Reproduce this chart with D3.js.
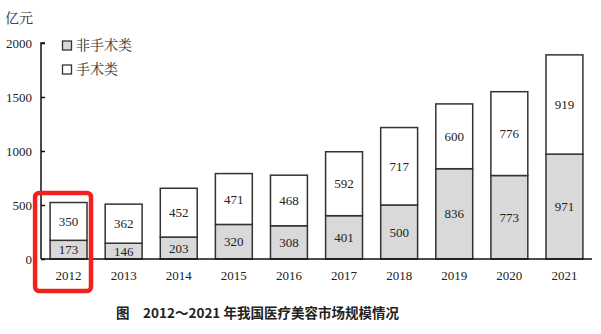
<!DOCTYPE html>
<html><head><meta charset="utf-8">
<script src="https://cdn.jsdelivr.net/npm/d3@7"></script>
<style>body{margin:0;background:#fff}svg{display:block}</style>
</head><body>
<svg id="c" width="601" height="334"></svg>
<script>
const years = ["2012","2013","2014","2015","2016","2017","2018","2019","2020","2021"];
const nonSurgical = [173,146,203,320,308,401,500,836,773,971];
const surgical = [350,362,452,471,468,592,717,600,776,919];
const yTicks = [0,500,1000,1500,2000];
const seriesNames = ["非手术类","手术类"];
const colors = ["#d9d9d9","#ffffff"];

const svg = d3.select("#c");
const serif = "'Liberation Serif','Noto Serif CJK SC','Noto Sans CJK SC',serif";
const x = d3.scaleBand().domain(years).range([41,592]).paddingInner(0.33).paddingOuter(0.165);
const y = d3.scaleLinear().domain([0,2000]).range([259,43]);

const data = years.map((yr,i)=>({yr, a:nonSurgical[i], b:surgical[i]}));
const stack = d3.stack().keys(["a","b"])(data);

stack.forEach((layer,li)=>{
  svg.append("g").selectAll("rect").data(layer).join("rect")
    .attr("x",d=>x(d.data.yr)).attr("width",x.bandwidth())
    .attr("y",d=>y(d[1])).attr("height",d=>y(d[0])-y(d[1]))
    .attr("fill",colors[li]).attr("stroke","#333").attr("stroke-width",1.5);
  svg.append("g").selectAll("text").data(layer).join("text")
    .attr("x",d=>x(d.data.yr)+x.bandwidth()/2)
    .attr("y",d=>(y(d[0])+y(d[1]))/2)
    .attr("dy","0.35em").attr("text-anchor","middle")
    .attr("font-family",serif).attr("font-size",13).attr("fill","#222")
    .text(d=>d[1]-d[0]);
});

// y axis
const ya = svg.append("g").attr("transform","translate(41,0)")
  .call(d3.axisRight(y).tickValues(yTicks).tickSize(4).tickFormat(""));
ya.select(".domain").attr("stroke","#111").attr("stroke-width",1.5).attr("d","M4,43H0V259");
ya.selectAll("line").attr("stroke","#111").attr("stroke-width",1.5);
svg.append("g").selectAll("text").data(yTicks).join("text")
  .attr("x",32).attr("y",d=>y(d)).attr("dy","0.35em").attr("text-anchor","end")
  .attr("font-family",serif).attr("font-size",13).attr("fill","#222").text(d=>d);

// x axis
const xa = svg.append("g").attr("transform","translate(0,259)")
  .call(d3.axisBottom(x).tickSize(0).tickPadding(12));
xa.select(".domain").attr("stroke","#111").attr("stroke-width",1.5).attr("d","M41,0H592");
xa.selectAll("text").attr("font-family",serif).attr("font-size",13).attr("fill","#222");

// unit
svg.append("text").attr("x",5).attr("y",23).attr("font-family",serif).attr("font-size",14).attr("fill","#333").text("亿元");

// legend
seriesNames.forEach((n,i)=>{
  const ly = 45.5 + i*24;
  svg.append("rect").attr("x",62.5).attr("y",ly-4.5).attr("width",9).attr("height",9)
    .attr("fill",colors[i]).attr("stroke","#333").attr("stroke-width",1.3);
  svg.append("text").attr("x",76).attr("y",ly).attr("dy","0.35em")
    .attr("font-family",serif).attr("font-size",14).attr("fill","#333").text(n);
});

// highlight
const hx = x("2012");
svg.append("rect").attr("x",hx-15).attr("y",193).attr("width",x.bandwidth()+19).attr("height",98)
  .attr("rx",4).attr("fill","none").attr("stroke","#f0231c").attr("stroke-width",4.5);

// caption
svg.append("text").attr("x",257.5).attr("y",313).attr("dy","0.35em").attr("text-anchor","middle")
  .attr("font-family","'Noto Sans CJK SC',sans-serif").attr("font-size",13.5).attr("font-weight","bold").attr("fill","#222")
  .text("图　2012～2021 年我国医疗美容市场规模情况");
</script>
</body></html>
